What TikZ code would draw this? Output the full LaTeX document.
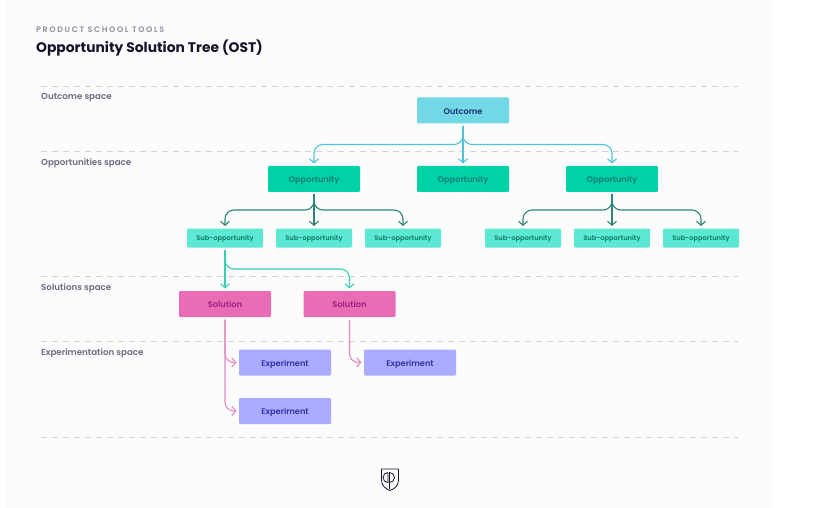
\documentclass[tikz,border=0pt]{standalone}
\usepackage{fontspec}
\setmainfont{Poppins}
\newfontfamily\medfont{Poppins SemiBold}
\usetikzlibrary{arrows.meta}
\definecolor{pagetint}{HTML}{FCFCFD}
\definecolor{dashgray}{HTML}{D2D2D8}
\definecolor{spacegray}{HTML}{6C6C80}
\definecolor{toolgray}{HTML}{8E8E9E}
\definecolor{titleink}{HTML}{14142B}
\definecolor{outcomefill}{HTML}{72D8E6}
\definecolor{outcomeink}{HTML}{1B2F70}
\definecolor{outcomeline}{HTML}{4CC4DA}
\definecolor{oppfill}{HTML}{00D2A8}
\definecolor{oppink}{HTML}{0E7F6E}
\definecolor{oppline}{HTML}{2F8577}
\definecolor{subfill}{HTML}{5CE8D2}
\definecolor{subink}{HTML}{0F7A6A}
\definecolor{subline}{HTML}{36D0B4}
\definecolor{solfill}{HTML}{E96DB5}
\definecolor{solink}{HTML}{A41A7E}
\definecolor{solline}{HTML}{E58CC4}
\definecolor{expfill}{HTML}{ABABFF}
\definecolor{expink}{HTML}{3A2FA0}
\tikzset{
  box/.style={rounded corners=1.2pt, minimum width=92pt, minimum height=26pt, inner sep=0pt, outer sep=2.5pt, text height=7.8pt, text depth=0pt, font=\medfont\fontsize{8.2}{10}\selectfont},
  outcomebox/.style={box, fill=outcomefill, text=outcomeink},
  oppbox/.style={box, fill=oppfill, text=oppink},
  subbox/.style={box, minimum width=76pt, minimum height=19pt, text height=5.2pt, fill=subfill, text=subink, font=\medfont\fontsize{6.7}{8}\selectfont},
  solbox/.style={box, fill=solfill, text=solink},
  expbox/.style={box, fill=expfill, text=expink},
  spacelabel/.style={anchor=west, inner sep=0pt, text=spacegray, font=\medfont\fontsize{8.7}{10}\selectfont},
  spaceline/.style={dashgray, line width=0.9pt, dash pattern=on 6pt off 5pt},
  flow/.style={line width=1.1pt, rounded corners=9pt, -{Straight Barb[length=4pt,width=9pt]}}
}
\begin{document}
\begin{tikzpicture}[x=1pt,y=-1pt]
  \useasboundingbox (0,0) rectangle (817,508);
  \fill[white] (0,0) rectangle (817,508);
  \fill[pagetint] (6,0) rectangle (771,508);

  % Heading
  \node[anchor=west, inner sep=0pt, text=toolgray, font=\medfont\fontsize{8}{10}\selectfont\addfontfeatures{LetterSpace=20}] (tools) at (36,29.5) {PRODUCT SCHOOL TOOLS};
  \node[anchor=west, inner sep=0pt, text=titleink, font=\bfseries\fontsize{13.85}{16}\selectfont] (title) at (36,48) {Opportunity Solution Tree (OST)};

  % Spaces
  \foreach \y in {86,151.5,276,341,437} {
    \draw[spaceline] (41,\y) -- (738,\y);
  }
  \foreach \name/\y/\txt in {a/98/Outcome space, b/163/Opportunities space, c/288/Solutions space, d/353/Experimentation space} {
    \node[spacelabel] (space\name) at (41,\y) {\txt};
  }

  % Boxes
  \node[outcomebox] (outcome) at (463,110.5) {Outcome};
  \foreach \i/\x in {1/314,2/463,3/612} {
    \node[oppbox] (opp\i) at (\x,179) {Opportunity};
  }
  \foreach \i/\x in {1/225,2/314,3/403,4/523,5/612,6/701} {
    \node[subbox] (sub\i) at (\x,238) {Sub-opportunity};
  }
  \node[solbox] (sol1) at (225,304) {Solution};
  \node[solbox] (sol2) at (349.5,304) {Solution};
  \node[expbox] (exp1) at (285,362.5) {Experiment};
  \node[expbox] (exp2) at (285,411) {Experiment};
  \node[expbox] (exp3) at (410,362.5) {Experiment};

  % Connectors
  \foreach \b in {opp1,opp3} {
    \draw[flow, outcomeline] (outcome.south) -- ++(0,18.5) -| (\b.north);
  }
  \draw[flow, outcomeline] (outcome.south) -- (opp2.north);
  \foreach \b in {sub1,sub3} {
    \draw[flow, oppline] (opp1.south) -- ++(0,15.5) -| (\b.north);
  }
  \draw[flow, oppline] (opp1.south) -- (sub2.north);
  \foreach \b in {sub4,sub6} {
    \draw[flow, oppline] (opp3.south) -- ++(0,15.5) -| (\b.north);
  }
  \draw[flow, oppline] (opp3.south) -- (sub5.north);
  \draw[flow, subline] (sub1.south) -- (sol1.north);
  \draw[flow, subline] (sub1.south) -- ++(0,19) -| (sol2.north);
  \draw[flow, solline] (sol1.south) |- (exp1.west);
  \draw[flow, solline] (sol1.south) |- (exp2.west);
  \draw[flow, solline] (sol2.south) |- (exp3.west);

  % Logo
  \draw[titleink, line width=0.8pt, line join=round] (381.5,469) -- (398.5,469) -- (398.5,480) .. controls (398.5,486) and (394,489) .. (390,490.5) .. controls (386,489) and (381.5,486) .. (381.5,480) -- cycle;
  \draw[titleink, line width=0.8pt] (389.5,489) -- (389.5,472.5) arc (-90:90:5);
  \draw[titleink, line width=0.8pt] (388,472.5) arc (270:90:5) -- (388,472.5);
\end{tikzpicture}
\end{document}
